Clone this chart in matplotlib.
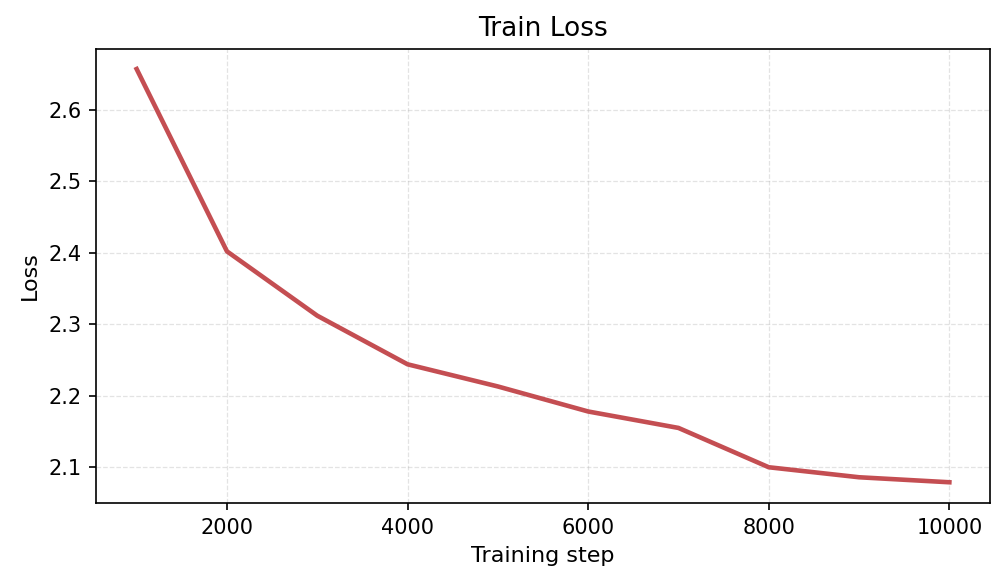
import matplotlib
matplotlib.use("Agg")
import matplotlib.pyplot as plt

steps = [1000, 2000, 3000, 4000, 5000, 6000, 7000, 8000, 9000, 10000]
loss = [2.657, 2.402, 2.312, 2.244, 2.213, 2.178, 2.155, 2.100, 2.086, 2.079]

W, H, DPI = 1005, 584, 150
fig = plt.figure(figsize=(W / DPI, H / DPI), dpi=DPI)
ax = fig.add_axes([96 / W, 1 - 503 / H, (990 - 96) / W, (503 - 49) / H])
ax.plot(steps, loss, color="#c44e52", linewidth=2.2)
ax.set_title("Train Loss", fontsize=12.7)
ax.set_xlabel("Training step", fontsize=10.7)
ax.set_ylabel("Loss", fontsize=10.7)
ax.grid(True, linestyle="--", linewidth=0.6, alpha=0.35)
ax.set_xlim(550, 10450)
ax.set_ylim(2.05, 2.685)
ax.set_xticks([2000, 4000, 6000, 8000, 10000])
ax.set_yticks([2.1, 2.2, 2.3, 2.4, 2.5, 2.6])
fig.savefig("out.png", dpi=DPI)
